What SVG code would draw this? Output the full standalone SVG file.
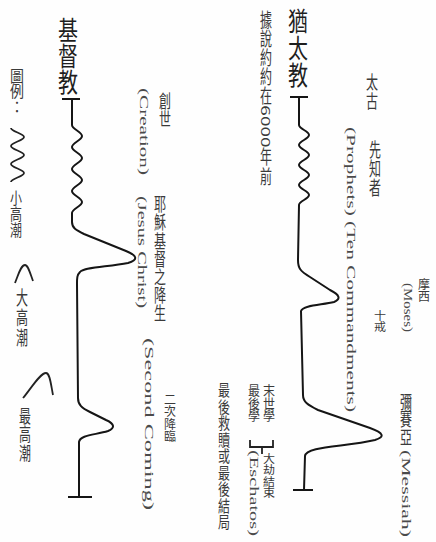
<svg xmlns="http://www.w3.org/2000/svg" width="436" height="542" viewBox="0 0 436 542">
<style>
.v{writing-mode:vertical-rl;font-family:"Noto Sans CJK TC","Noto Sans CJK SC",sans-serif;fill:#3a3a3a;font-size:12px}
.h{font-size:20px;fill:#1e1e1e}
.en{font-family:"Liberation Serif",serif;font-size:13px;fill:#4a4a4a;dominant-baseline:central}
.ln{fill:none;stroke:#151515;stroke-width:2;stroke-linecap:butt;stroke-linejoin:round}
.lg{fill:none;stroke:#222;stroke-width:1.8}
</style>
<rect width="436" height="542" fill="#fefefe"/>
<g id="judaism">
<text class="v h" transform="translate(298,8) scale(1,1.33)">猶太教</text>
<text class="v" transform="translate(266,10) scale(1,1.59)">據說約約在6000年前</text>
</g>
<g id="christianity">
<text class="v h" transform="translate(68,17) scale(1,1.3)">基督教</text>
</g>
<g id="ancient">
<text class="v" transform="translate(372,73) scale(1,1.54)">太古</text>
</g>
<g id="prophets">
<text class="v" transform="translate(375,140) scale(1,1.58)">先知者</text>
<text class="en" transform="translate(351,127) rotate(90)" textLength="285" lengthAdjust="spacingAndGlyphs">(Prophets) (Ten Commandments)</text>
</g>
<g id="moses">
<text class="v" transform="translate(424,278)">摩西</text>
<text class="en" transform="translate(408,283) rotate(90)" textLength="49" lengthAdjust="spacingAndGlyphs">(Moses)</text>
<text class="v" transform="translate(380,310) scale(1,0.95)">十戒</text>
</g>
<g id="messiah">
<text class="v" transform="translate(406,393) scale(1,1.47)">彌賽亞</text>
<text class="en" transform="translate(406,450) rotate(90)" textLength="87" lengthAdjust="spacingAndGlyphs">(Messiah)</text>
</g>
<g id="eschatology">
<text class="v" transform="translate(269,384) scale(1,1.05)">末世學</text>
<text class="v" transform="translate(254,384) scale(1,1.05)">最後學</text>
<path class="lg" d="M250,440 V447 H273 V440 M262,447 V454"/>
<text class="v" transform="translate(269,453) scale(1,0.95)">大劫結束</text>
<text class="en" transform="translate(254,450) rotate(90)" textLength="86" lengthAdjust="spacingAndGlyphs">(Eschatos)</text>
<text class="v" transform="translate(224,382) scale(1,1.37)">最後救贖或最後結局</text>
</g>
<g id="creation">
<text class="v" transform="translate(165,92) scale(1,1.5)">創世</text>
<text class="en" transform="translate(144,88) rotate(90)" textLength="87" lengthAdjust="spacingAndGlyphs">(Creation)</text>
</g>
<g id="jesus">
<text class="v" transform="translate(160,195) scale(1,1.52)">耶穌基督之降生</text>
<text class="en" transform="translate(142,196) rotate(90)" textLength="112" lengthAdjust="spacingAndGlyphs">(Jesus Christ)</text>
</g>
<g id="second-coming">
<text class="v" transform="translate(170,393) scale(1,1.04)">二次降臨</text>
<text class="en" transform="translate(149,338) rotate(90)" textLength="172" lengthAdjust="spacingAndGlyphs">(Second Coming)</text>
</g>
<g id="legend">
<text class="v" style="font-size:14px" transform="translate(17,68) scale(1,1.12)">圖例：</text>
<path class="lg" d="M11,128 C11,131.6 24,133.4 24,137 C24,140.6 11,142.4 11,146 C11,149.6 24,151.4 24,155 C24,158.6 11,160.4 11,164 C11,167.6 24,169.4 24,173 C24,176.6 11,178.4 11,182"/>
<text class="v" transform="translate(16,190) scale(1,1.33)">小高潮</text>
<path class="lg" d="M15,283 C19,273 21,265 25,265 C28,265 30,273 33,281"/>
<text class="v" transform="translate(22,288) scale(1,1.64)">大高潮</text>
<path class="lg" d="M23,398 C30,390 40,373 46,373 C50,373 51,385 53,395"/>
<text class="v" transform="translate(25,407) scale(1,1.53)">最高潮</text>
</g>
<g id="connectors">
<path class="ln" d="M290,97 H308 M299,97 V125 C299,129 309,131 309,135 C309,139 299,141 299,145 C299,149 309,151 309,155 C309,159 299,161 299,165 C299,169 309,171 309,175 C309,179 299,181 299,185 C299,189 309,191 309,195 C309,199 299,201 299,205 L298,260 C298,268 300,271 310,277 L330,290 C340,295 341,299 334,302 C322,305 303,305 301,311 L303,395 C303,402 308,405 318,410 L370,428 C384,433 385,437 375,440 C345,447 306,446 305,456 L304,490 M293,490 H313"/>
<path class="ln" d="M62,99 H80 M72,99 V125 C72,129.4 82,131.6 82,136 C82,140.4 72,142.6 72,147 C72,151.4 82,153.6 82,158 C82,162.4 72,164.6 72,169 C72,173.4 82,175.6 82,180 C82,184.4 72,186.6 72,191 C72,195.4 82,197.6 82,202 C82,206.4 72,208.6 72,213 L72,222 C72,228 76,230 84,234 L126,251 C138,256 138,260 128,263 C108,267 84,267 80,272 C77,275 77,278 77,284 L78,398 C78,405 82,408 90,412 L106,420 C115,424 115,428 108,431 C95,435 80,435 79,442 L79,497 M68,497 H92"/>
</g>
</svg>
